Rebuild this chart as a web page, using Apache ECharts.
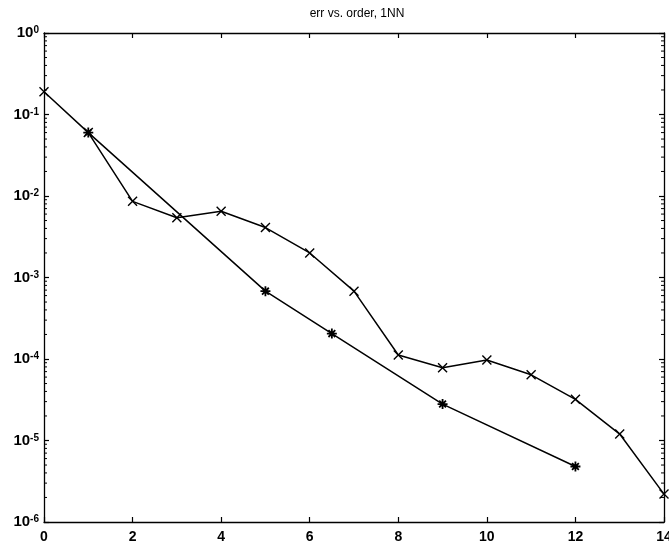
<!DOCTYPE html>
<html>
<head>
<meta charset="utf-8">
<script src="https://cdn.jsdelivr.net/npm/echarts@6/dist/echarts.min.js"></script>
<style>html,body{margin:0;padding:0;background:#fff}#c{width:669px;height:541px}</style>
</head>
<body>
<div id="c"></div>
<script>
// Data
var titleText = 'err vs. order, 1NN';
var orderX = [0, 1, 2, 3, 4, 5, 6, 7, 8, 9, 10, 11, 12, 13, 14];
var errX = [0.19, 0.060, 0.0086, 0.0054, 0.0065, 0.0041, 0.0020, 0.00068, 1.12e-4, 7.8e-5, 9.7e-5, 6.4e-5, 3.2e-5, 1.2e-5, 2.2e-6];
var orderStar = [1, 5, 6.5, 9, 12];
var errStar = [0.060, 0.00068, 2.05e-4, 2.8e-5, 4.8e-6];
var xTicks = [0, 2, 4, 6, 8, 10, 12, 14];
var yDecades = [-6, -5, -4, -3, -2, -1, 0];

var xMin = xTicks[0], xMax = xTicks[xTicks.length - 1], xInterval = xTicks[1] - xTicks[0];
var yMin = Math.pow(10, yDecades[0]), yMax = Math.pow(10, yDecades[yDecades.length - 1]);

var seriesX = orderX.map(function (x, i) { return [x, errX[i]]; });
var seriesStar = orderStar.map(function (x, i) { return [x, errStar[i]]; });

// minor log ticks (2..9 x 10^k) on both vertical sides
var minorTicks = [];
for (var d = 0; d < yDecades.length - 1; d++) {
  for (var m = 2; m <= 9; m++) {
    var v = m * Math.pow(10, yDecades[d]);
    minorTicks.push([xMin, v]);
    minorTicks.push([xMax, v]);
  }
}

var FONT = '"Liberation Sans", Arial, Helvetica, sans-serif';
var chart = echarts.init(document.getElementById('c'), null, { renderer: 'canvas' });

var xMarker = 'path://M0,0L10,10M10,0L0,10';
var starMarker = 'path://M5,0L5,10M0,5L10,5M1.6,1.6L8.4,8.4M8.4,1.6L1.6,8.4';

var lineAx = { onZero: false, lineStyle: { color: '#000', width: 1.3 } };
var tickAx = { inside: true, length: 5, lineStyle: { color: '#000', width: 1.2 } };

chart.setOption({
  animation: false,
  backgroundColor: '#fff',
  title: {
    text: titleText,
    left: 352,
    top: 3,
    textAlign: 'center',
    textStyle: { fontFamily: FONT, fontSize: 12, fontWeight: 'normal', color: '#000' }
  },
  grid: { left: 44, right: 5, top: 33, bottom: 19, containLabel: false, outerBoundsMode: 'none' },
  xAxis: [{
    type: 'value', min: xMin, max: xMax, interval: xInterval, position: 'bottom',
    axisLine: lineAx, axisTick: tickAx,
    axisLabel: { margin: 8, color: '#000', fontFamily: FONT, fontSize: 14, fontWeight: 'bold', hideOverlap: false },
    splitLine: { show: false }
  }, {
    type: 'value', min: xMin, max: xMax, interval: xInterval, position: 'top',
    axisLine: lineAx, axisTick: tickAx,
    axisLabel: { show: false },
    splitLine: { show: false }
  }],
  yAxis: [{
    type: 'log', logBase: 10, min: yMin, max: yMax, position: 'left',
    axisLine: lineAx, axisTick: tickAx,
    axisLabel: {
      margin: 5, color: '#000',
      formatter: function (v) {
        var e = Math.round(Math.log10(v));
        return '{b|10}{s|' + e + '}';
      },
      rich: {
        b: { fontFamily: FONT, fontSize: 15, fontWeight: 'bold', color: '#000', lineHeight: 15, padding: [8, 0, 0, 0], verticalAlign: 'bottom' },
        s: { fontFamily: FONT, fontSize: 10, fontWeight: 'bold', color: '#000', lineHeight: 10, verticalAlign: 'top' }
      }
    },
    splitLine: { show: false }
  }, {
    type: 'log', logBase: 10, min: yMin, max: yMax, position: 'right',
    axisLine: lineAx, axisTick: tickAx,
    axisLabel: { show: false },
    splitLine: { show: false }
  }],
  series: [{
    type: 'line', data: seriesX, xAxisIndex: 0, yAxisIndex: 0,
    symbol: xMarker, symbolSize: 9, showAllSymbol: true,
    lineStyle: { color: '#000', width: 1.5 },
    itemStyle: { color: 'none', borderColor: '#000', borderWidth: 1.4 },
    emphasis: { disabled: true }, z: 3
  }, {
    type: 'line', data: seriesStar, xAxisIndex: 0, yAxisIndex: 0,
    symbol: starMarker, symbolSize: 10, showAllSymbol: true,
    lineStyle: { color: '#000', width: 1.5 },
    itemStyle: { color: 'none', borderColor: '#000', borderWidth: 1.8 },
    emphasis: { disabled: true }, z: 3
  }, {
    type: 'custom', data: minorTicks, xAxisIndex: 0, yAxisIndex: 0, silent: true, clip: false, z: 5,
    renderItem: function (params, api) {
      var x = api.value(0), p = api.coord([x, api.value(1)]);
      var dir = x === xMin ? 1 : -1;
      return { type: 'line', shape: { x1: p[0], y1: p[1], x2: p[0] + dir * 3, y2: p[1] }, style: { stroke: '#000', lineWidth: 1 } };
    }
  }]
});
</script>
</body>
</html>
